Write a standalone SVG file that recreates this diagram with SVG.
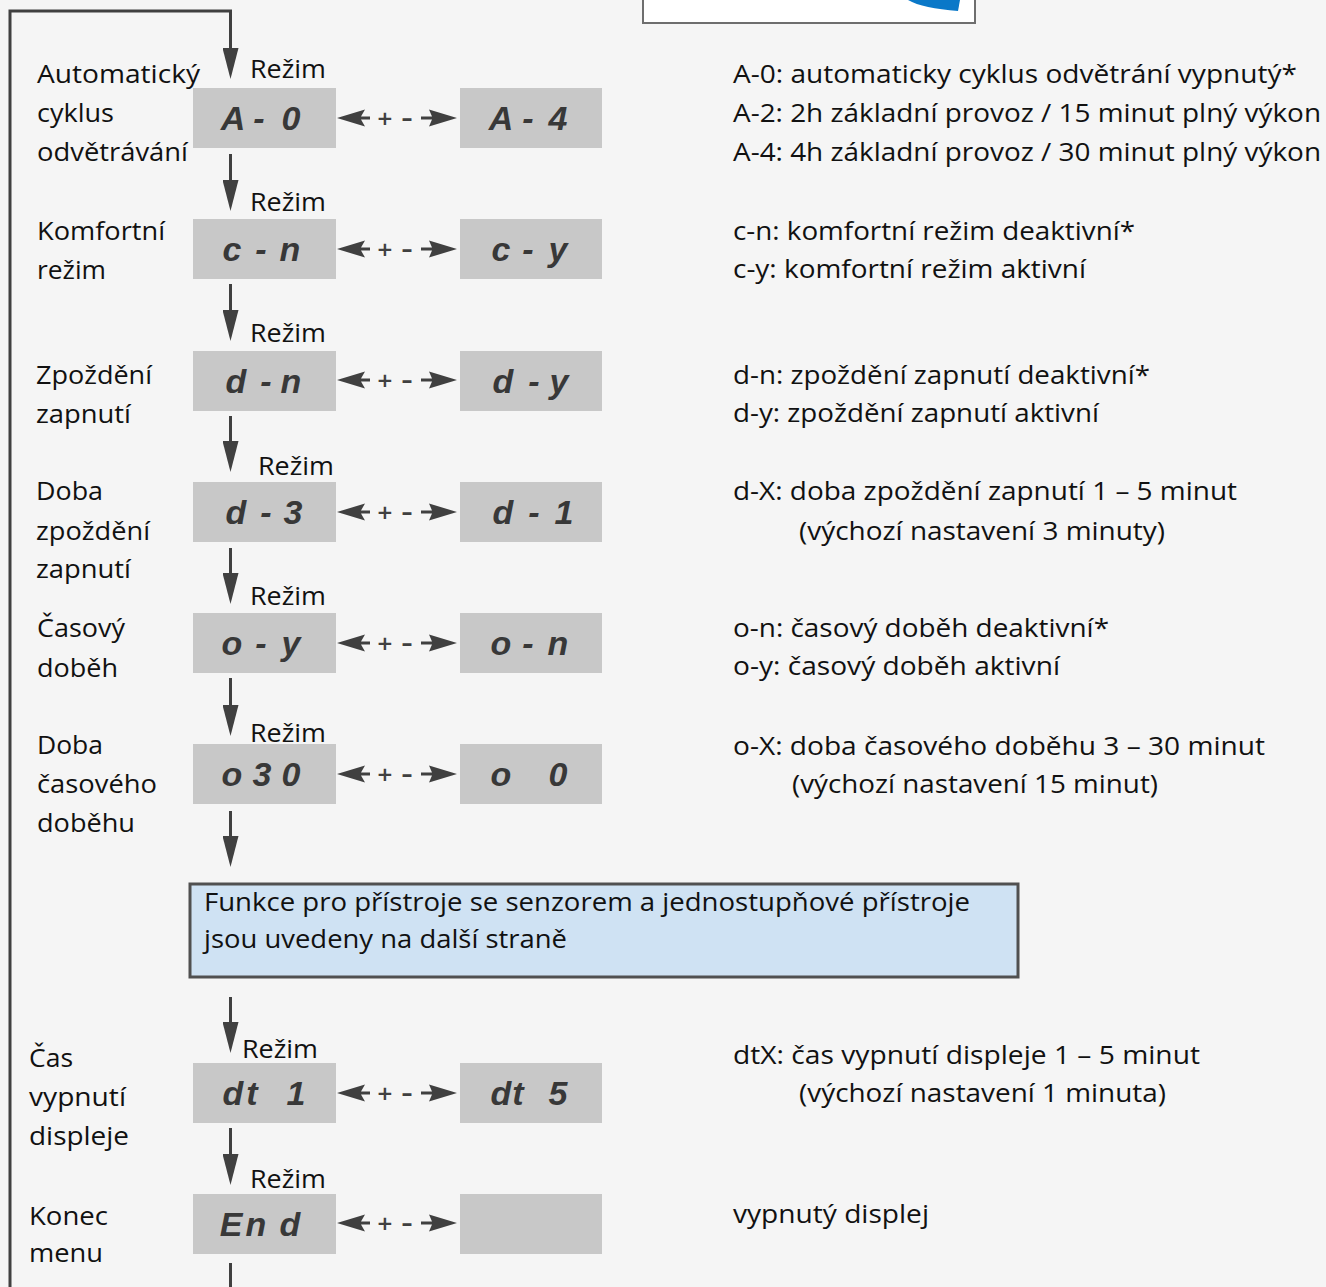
<svg xmlns="http://www.w3.org/2000/svg" width="1326" height="1287" viewBox="0 0 1326 1287">
<style>
.t{font-family:"Open Sans","Noto Sans","Liberation Sans",sans-serif;font-size:25px;fill:#111}
.seg{font-family:"Liberation Sans","DejaVu Sans",sans-serif;font-size:34px;font-weight:bold;font-style:italic;fill:#383838;text-anchor:middle}
.box{fill:#c8c8c8}
.pm{font-family:"DejaVu Sans","Liberation Sans",sans-serif;font-size:20px;font-weight:bold;fill:#404040;text-anchor:middle}
.dbl{fill:#404040}
.ln{fill:none;stroke:#404040;stroke-width:3}
</style>
<defs>
<marker id="ah" markerUnits="userSpaceOnUse" viewBox="0 0 31 16" refX="6" refY="8" markerWidth="31" markerHeight="16" orient="auto">
<path d="M0,0 L31,8 L0,16 Z" fill="#404040"/>
</marker>
<g id="dblarrow">
<path d="M337,0 L365,-8.5 L361,-1.5 L370,-1.5 L370,1.5 L361,1.5 L365,8.5 Z"/>
<path d="M457,0 L429,-8.5 L432,-1.5 L421,-1.5 L421,1.5 L432,1.5 L429,8.5 Z"/>
</g>
</defs>
<rect x="0" y="0" width="1326" height="1287" fill="#f5f5f5"/>

<g id="header-box">
<rect x="643" y="-5" width="332" height="28" fill="#fff" stroke="#6e6e6e" stroke-width="2"/>
<path d="M908,0 C918,6 935,9 958,11 L960,0 Z" fill="#0a78c8"/>
</g>

<g id="connectors">
<path class="ln" d="M10,1287 V11 H230.5 V54" marker-end="url(#ah)"/>
<path class="ln" d="M230.5,154 V186" marker-end="url(#ah)"/>
<path class="ln" d="M230.5,284 V316" marker-end="url(#ah)"/>
<path class="ln" d="M230.5,416 V447" marker-end="url(#ah)"/>
<path class="ln" d="M230.5,548 V579" marker-end="url(#ah)"/>
<path class="ln" d="M230.5,678 V711" marker-end="url(#ah)"/>
<path class="ln" d="M230.5,811 V842" marker-end="url(#ah)"/>
<path class="ln" d="M230.5,997 V1028" marker-end="url(#ah)"/>
<path class="ln" d="M230.5,1128 V1160" marker-end="url(#ah)"/>
<path class="ln" d="M230.5,1263 V1287"/>
<g class="dbl">
<use href="#dblarrow" transform="translate(0,118)"/>
<use href="#dblarrow" transform="translate(0,249)"/>
<use href="#dblarrow" transform="translate(0,380)"/>
<use href="#dblarrow" transform="translate(0,512)"/>
<use href="#dblarrow" transform="translate(0,643)"/>
<use href="#dblarrow" transform="translate(0,774)"/>
<use href="#dblarrow" transform="translate(0,1093)"/>
<use href="#dblarrow" transform="translate(0,1223)"/>
</g>
<g class="pm">
<text x="385" y="125">+</text><text x="407" y="125" textLength="12" lengthAdjust="spacingAndGlyphs">-</text>
<text x="385" y="256">+</text><text x="407" y="256" textLength="12" lengthAdjust="spacingAndGlyphs">-</text>
<text x="385" y="387">+</text><text x="407" y="387" textLength="12" lengthAdjust="spacingAndGlyphs">-</text>
<text x="385" y="519">+</text><text x="407" y="519" textLength="12" lengthAdjust="spacingAndGlyphs">-</text>
<text x="385" y="650">+</text><text x="407" y="650" textLength="12" lengthAdjust="spacingAndGlyphs">-</text>
<text x="385" y="781">+</text><text x="407" y="781" textLength="12" lengthAdjust="spacingAndGlyphs">-</text>
<text x="385" y="1100">+</text><text x="407" y="1100" textLength="12" lengthAdjust="spacingAndGlyphs">-</text>
<text x="385" y="1230">+</text><text x="407" y="1230" textLength="12" lengthAdjust="spacingAndGlyphs">-</text>
</g>
</g>

<g id="row-auto">
<text class="t" x="37" y="83" textLength="163" lengthAdjust="spacingAndGlyphs">Automatický</text>
<text class="t" x="37" y="122" textLength="77" lengthAdjust="spacingAndGlyphs">cyklus</text>
<text class="t" x="37" y="161" textLength="151" lengthAdjust="spacingAndGlyphs">odvětrávání</text>
<text class="t" x="250" y="78" textLength="76" lengthAdjust="spacingAndGlyphs">Režim</text>
<g id="disp-A0"><rect class="box" x="193" y="88" width="143" height="60"/><text class="seg" x="233 259 291" y="130">A-0</text></g>
<g id="disp-A4"><rect class="box" x="460" y="88" width="142" height="60"/><text class="seg" x="501 528 558" y="130">A-4</text></g>
<text class="t" x="733" y="83" textLength="564" lengthAdjust="spacingAndGlyphs">A-0: automaticky cyklus odvětrání vypnutý*</text>
<text class="t" x="733" y="122" textLength="588" lengthAdjust="spacingAndGlyphs">A-2: 2h základní provoz / 15 minut plný výkon</text>
<text class="t" x="733" y="161" textLength="588" lengthAdjust="spacingAndGlyphs">A-4: 4h základní provoz / 30 minut plný výkon</text>
</g>

<g id="row-comfort">
<text class="t" x="37" y="240" textLength="128" lengthAdjust="spacingAndGlyphs">Komfortní</text>
<text class="t" x="37" y="279" textLength="69" lengthAdjust="spacingAndGlyphs">režim</text>
<text class="t" x="250" y="211" textLength="76" lengthAdjust="spacingAndGlyphs">Režim</text>
<g id="disp-cn"><rect class="box" x="193" y="219" width="143" height="60"/><text class="seg" x="232 261 290" y="261">c-n</text></g>
<g id="disp-cy"><rect class="box" x="460" y="219" width="142" height="60"/><text class="seg" x="501 528 558" y="261">c-y</text></g>
<text class="t" x="733" y="240" textLength="402" lengthAdjust="spacingAndGlyphs">c-n: komfortní režim deaktivní*</text>
<text class="t" x="733" y="278" textLength="353" lengthAdjust="spacingAndGlyphs">c-y: komfortní režim aktivní</text>
</g>

<g id="row-delay">
<text class="t" x="36" y="384" textLength="116" lengthAdjust="spacingAndGlyphs">Zpoždění</text>
<text class="t" x="36" y="423" textLength="95" lengthAdjust="spacingAndGlyphs">zapnutí</text>
<text class="t" x="250" y="342" textLength="76" lengthAdjust="spacingAndGlyphs">Režim</text>
<g id="disp-dn"><rect class="box" x="193" y="351" width="143" height="60"/><text class="seg" x="236 266 291" y="393">d-n</text></g>
<g id="disp-dy"><rect class="box" x="460" y="351" width="142" height="60"/><text class="seg" x="503 534 559" y="393">d-y</text></g>
<text class="t" x="733" y="384" textLength="417" lengthAdjust="spacingAndGlyphs">d-n: zpoždění zapnutí deaktivní*</text>
<text class="t" x="733" y="422" textLength="366" lengthAdjust="spacingAndGlyphs">d-y: zpoždění zapnutí aktivní</text>
</g>

<g id="row-delay-time">
<text class="t" x="36" y="500" textLength="67" lengthAdjust="spacingAndGlyphs">Doba</text>
<text class="t" x="36" y="540" textLength="114" lengthAdjust="spacingAndGlyphs">zpoždění</text>
<text class="t" x="36" y="578" textLength="95" lengthAdjust="spacingAndGlyphs">zapnutí</text>
<text class="t" x="258" y="475" textLength="76" lengthAdjust="spacingAndGlyphs">Režim</text>
<g id="disp-d3"><rect class="box" x="193" y="482" width="143" height="60"/><text class="seg" x="236 266 293" y="524">d-3</text></g>
<g id="disp-d1"><rect class="box" x="460" y="482" width="142" height="60"/><text class="seg" x="503 534 564" y="524">d-1</text></g>
<text class="t" x="733" y="500" textLength="504" lengthAdjust="spacingAndGlyphs">d-X: doba zpoždění zapnutí 1 – 5 minut</text>
<text class="t" x="799" y="540" textLength="366" lengthAdjust="spacingAndGlyphs">(výchozí nastavení 3 minuty)</text>
</g>

<g id="row-overrun">
<text class="t" x="37" y="637" textLength="88" lengthAdjust="spacingAndGlyphs">Časový</text>
<text class="t" x="37" y="677" textLength="81" lengthAdjust="spacingAndGlyphs">doběh</text>
<text class="t" x="250" y="605" textLength="76" lengthAdjust="spacingAndGlyphs">Režim</text>
<g id="disp-oy"><rect class="box" x="193" y="613" width="143" height="60"/><text class="seg" x="232 261 291" y="655">o-y</text></g>
<g id="disp-on"><rect class="box" x="460" y="613" width="142" height="60"/><text class="seg" x="501 528 558" y="655">o-n</text></g>
<text class="t" x="733" y="637" textLength="376" lengthAdjust="spacingAndGlyphs">o-n: časový doběh deaktivní*</text>
<text class="t" x="733" y="675" textLength="327" lengthAdjust="spacingAndGlyphs">o-y: časový doběh aktivní</text>
</g>

<g id="row-overrun-time">
<text class="t" x="37" y="754" textLength="66" lengthAdjust="spacingAndGlyphs">Doba</text>
<text class="t" x="37" y="793" textLength="120" lengthAdjust="spacingAndGlyphs">časového</text>
<text class="t" x="37" y="832" textLength="98" lengthAdjust="spacingAndGlyphs">doběhu</text>
<text class="t" x="250" y="742" textLength="76" lengthAdjust="spacingAndGlyphs">Režim</text>
<g id="disp-o30"><rect class="box" x="193" y="744" width="143" height="60"/><text class="seg" x="232 262 291" y="786">o30</text></g>
<g id="disp-o0"><rect class="box" x="460" y="744" width="142" height="60"/><text class="seg" x="501 530 558" y="786">o 0</text></g>
<text class="t" x="733" y="755" textLength="532" lengthAdjust="spacingAndGlyphs">o-X: doba časového doběhu 3 – 30 minut</text>
<text class="t" x="792" y="793" textLength="366" lengthAdjust="spacingAndGlyphs">(výchozí nastavení 15 minut)</text>
</g>

<g id="note">
<rect x="190" y="884" width="828" height="93" fill="#cfe2f3" stroke="#505050" stroke-width="3"/>
<text class="t" x="204" y="911" textLength="766" lengthAdjust="spacingAndGlyphs">Funkce pro přístroje se senzorem a jednostupňové přístroje</text>
<text class="t" x="204" y="948" textLength="363" lengthAdjust="spacingAndGlyphs">jsou uvedeny na další straně</text>
</g>

<g id="row-display-off">
<text class="t" x="29" y="1067" textLength="44" lengthAdjust="spacingAndGlyphs">Čas</text>
<text class="t" x="29" y="1106" textLength="97" lengthAdjust="spacingAndGlyphs">vypnutí</text>
<text class="t" x="29" y="1145" textLength="100" lengthAdjust="spacingAndGlyphs">displeje</text>
<text class="t" x="242" y="1058" textLength="76" lengthAdjust="spacingAndGlyphs">Režim</text>
<g id="disp-dt1"><rect class="box" x="193" y="1063" width="143" height="60"/><text class="seg" x="233 252 274 296" y="1105">dt 1</text></g>
<g id="disp-dt5"><rect class="box" x="460" y="1063" width="142" height="60"/><text class="seg" x="501 518 538 558" y="1105">dt 5</text></g>
<text class="t" x="733" y="1064" textLength="467" lengthAdjust="spacingAndGlyphs">dtX: čas vypnutí displeje 1 – 5 minut</text>
<text class="t" x="799" y="1102" textLength="367" lengthAdjust="spacingAndGlyphs">(výchozí nastavení 1 minuta)</text>
</g>

<g id="row-end">
<text class="t" x="29" y="1225" textLength="79" lengthAdjust="spacingAndGlyphs">Konec</text>
<text class="t" x="29" y="1262" textLength="74" lengthAdjust="spacingAndGlyphs">menu</text>
<text class="t" x="250" y="1188" textLength="76" lengthAdjust="spacingAndGlyphs">Režim</text>
<g id="disp-end"><rect class="box" x="193" y="1194" width="143" height="60"/><text class="seg" x="231 256 290" y="1236">End</text></g>
<g id="disp-blank"><rect class="box" x="460" y="1194" width="142" height="60"/></g>
<text class="t" x="733" y="1223" textLength="196" lengthAdjust="spacingAndGlyphs">vypnutý displej</text>
</g>
</svg>
